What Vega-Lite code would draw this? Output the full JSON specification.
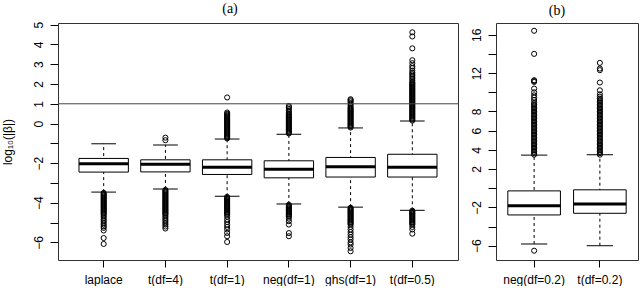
{
"$schema": "https://vega.github.io/schema/vega-lite/v6.json",
"background": "white",
"padding": {"left": 0, "top": 1, "right": 2, "bottom": 0},
"spacing": 10,
"config": {
  "view": {"stroke": "#333", "strokeWidth": 1},
  "font": "Liberation Sans",
  "axis": {"labelFont": "Liberation Sans", "labelFontSize": 12, "labelColor": "#000", "tickColor": "#000", "domain": false, "grid": false, "labelOverlap": false, "labelBound": false, "titleFont": "Liberation Sans", "titleFontSize": 12, "titleFontWeight": "normal", "titleColor": "#000"},
  "title": {"font": "Liberation Serif", "fontSize": 14, "fontWeight": "normal", "color": "#000"}
},
"datasets": {
  "statsA": [
    {"g": "laplace", "lw": -3.46, "q1": -2.45, "med": -2.03, "q3": -1.76, "uw": -1.02},
    {"g": "t(df=4)", "lw": -3.30, "q1": -2.44, "med": -2.06, "q3": -1.83, "uw": -1.08},
    {"g": "t(df=1)", "lw": -3.67, "q1": -2.57, "med": -2.21, "q3": -1.83, "uw": -0.78},
    {"g": "neg(df=1)", "lw": -4.06, "q1": -2.74, "med": -2.31, "q3": -1.88, "uw": -0.54},
    {"g": "ghs(df=1)", "lw": -4.22, "q1": -2.70, "med": -2.18, "q3": -1.71, "uw": -0.22},
    {"g": "t(df=0.5)", "lw": -4.38, "q1": -2.70, "med": -2.20, "q3": -1.55, "uw": 0.13}
  ],
  "statsB": [
    {"g": "neg(df=0.2)", "lw": -5.82, "q1": -2.79, "med": -1.82, "q3": -0.28, "uw": 3.45},
    {"g": "t(df=0.2)", "lw": -6.00, "q1": -2.62, "med": -1.64, "q3": -0.17, "uw": 3.49}
  ],
  "hline": [{"h": 1}],
  "outA": [
    {"g":"laplace","v":-3.50},{"g":"laplace","v":-3.55},{"g":"laplace","v":-3.60},{"g":"laplace","v":-3.65},{"g":"laplace","v":-3.70},{"g":"laplace","v":-3.75},{"g":"laplace","v":-3.80},{"g":"laplace","v":-3.85},{"g":"laplace","v":-3.90},{"g":"laplace","v":-3.95},{"g":"laplace","v":-4.00},{"g":"laplace","v":-4.05},{"g":"laplace","v":-4.10},{"g":"laplace","v":-4.15},{"g":"laplace","v":-4.20},{"g":"laplace","v":-4.25},{"g":"laplace","v":-4.30},{"g":"laplace","v":-4.35},{"g":"laplace","v":-4.40},{"g":"laplace","v":-4.45},{"g":"laplace","v":-4.50},{"g":"laplace","v":-4.55},{"g":"laplace","v":-4.60},{"g":"laplace","v":-4.68},{"g":"laplace","v":-4.76},{"g":"laplace","v":-4.85},{"g":"laplace","v":-4.93},{"g":"laplace","v":-5.02},{"g":"laplace","v":-5.10},{"g":"laplace","v":-5.19},{"g":"laplace","v":-5.27},{"g":"laplace","v":-5.40},{"g":"laplace","v":-5.78},{"g":"laplace","v":-6.08},
    {"g":"t(df=4)","v":-0.71},{"g":"t(df=4)","v":-0.84},
    {"g":"t(df=4)","v":-3.35},{"g":"t(df=4)","v":-3.40},{"g":"t(df=4)","v":-3.45},{"g":"t(df=4)","v":-3.50},{"g":"t(df=4)","v":-3.55},{"g":"t(df=4)","v":-3.60},{"g":"t(df=4)","v":-3.65},{"g":"t(df=4)","v":-3.70},{"g":"t(df=4)","v":-3.75},{"g":"t(df=4)","v":-3.80},{"g":"t(df=4)","v":-3.85},{"g":"t(df=4)","v":-3.90},{"g":"t(df=4)","v":-3.95},{"g":"t(df=4)","v":-4.00},{"g":"t(df=4)","v":-4.05},{"g":"t(df=4)","v":-4.10},{"g":"t(df=4)","v":-4.15},{"g":"t(df=4)","v":-4.20},{"g":"t(df=4)","v":-4.25},{"g":"t(df=4)","v":-4.30},{"g":"t(df=4)","v":-4.35},{"g":"t(df=4)","v":-4.40},{"g":"t(df=4)","v":-4.45},{"g":"t(df=4)","v":-4.50},{"g":"t(df=4)","v":-4.55},{"g":"t(df=4)","v":-4.60},{"g":"t(df=4)","v":-4.68},{"g":"t(df=4)","v":-4.76},{"g":"t(df=4)","v":-4.85},{"g":"t(df=4)","v":-4.93},{"g":"t(df=4)","v":-5.02},{"g":"t(df=4)","v":-5.10},{"g":"t(df=4)","v":-5.20},{"g":"t(df=4)","v":-5.30},
    {"g":"t(df=1)","v":-0.75},{"g":"t(df=1)","v":-0.70},{"g":"t(df=1)","v":-0.65},{"g":"t(df=1)","v":-0.60},{"g":"t(df=1)","v":-0.55},{"g":"t(df=1)","v":-0.50},{"g":"t(df=1)","v":-0.45},{"g":"t(df=1)","v":-0.40},{"g":"t(df=1)","v":-0.35},{"g":"t(df=1)","v":-0.30},{"g":"t(df=1)","v":-0.25},{"g":"t(df=1)","v":-0.20},{"g":"t(df=1)","v":-0.15},{"g":"t(df=1)","v":-0.10},{"g":"t(df=1)","v":-0.05},{"g":"t(df=1)","v":0.00},{"g":"t(df=1)","v":0.05},{"g":"t(df=1)","v":0.10},{"g":"t(df=1)","v":0.15},{"g":"t(df=1)","v":0.20},{"g":"t(df=1)","v":0.25},{"g":"t(df=1)","v":0.30},{"g":"t(df=1)","v":0.35},{"g":"t(df=1)","v":0.40},{"g":"t(df=1)","v":0.45},{"g":"t(df=1)","v":0.50},{"g":"t(df=1)","v":0.56},{"g":"t(df=1)","v":1.32},
    {"g":"t(df=1)","v":-3.70},{"g":"t(df=1)","v":-3.75},{"g":"t(df=1)","v":-3.80},{"g":"t(df=1)","v":-3.85},{"g":"t(df=1)","v":-3.90},{"g":"t(df=1)","v":-3.95},{"g":"t(df=1)","v":-4.00},{"g":"t(df=1)","v":-4.05},{"g":"t(df=1)","v":-4.10},{"g":"t(df=1)","v":-4.15},{"g":"t(df=1)","v":-4.20},{"g":"t(df=1)","v":-4.25},{"g":"t(df=1)","v":-4.30},{"g":"t(df=1)","v":-4.35},{"g":"t(df=1)","v":-4.40},{"g":"t(df=1)","v":-4.45},{"g":"t(df=1)","v":-4.50},{"g":"t(df=1)","v":-4.55},{"g":"t(df=1)","v":-4.60},{"g":"t(df=1)","v":-4.70},{"g":"t(df=1)","v":-4.84},{"g":"t(df=1)","v":-4.97},{"g":"t(df=1)","v":-5.10},{"g":"t(df=1)","v":-5.22},{"g":"t(df=1)","v":-5.35},{"g":"t(df=1)","v":-5.52},{"g":"t(df=1)","v":-5.69},{"g":"t(df=1)","v":-5.98},
    {"g":"neg(df=1)","v":-0.50},{"g":"neg(df=1)","v":-0.45},{"g":"neg(df=1)","v":-0.40},{"g":"neg(df=1)","v":-0.35},{"g":"neg(df=1)","v":-0.30},{"g":"neg(df=1)","v":-0.25},{"g":"neg(df=1)","v":-0.20},{"g":"neg(df=1)","v":-0.15},{"g":"neg(df=1)","v":-0.10},{"g":"neg(df=1)","v":-0.05},{"g":"neg(df=1)","v":0.00},{"g":"neg(df=1)","v":0.05},{"g":"neg(df=1)","v":0.10},{"g":"neg(df=1)","v":0.15},{"g":"neg(df=1)","v":0.20},{"g":"neg(df=1)","v":0.25},{"g":"neg(df=1)","v":0.30},{"g":"neg(df=1)","v":0.35},{"g":"neg(df=1)","v":0.40},{"g":"neg(df=1)","v":0.45},{"g":"neg(df=1)","v":0.50},{"g":"neg(df=1)","v":0.58},{"g":"neg(df=1)","v":0.66},{"g":"neg(df=1)","v":0.74},{"g":"neg(df=1)","v":0.82},{"g":"neg(df=1)","v":0.89},
    {"g":"neg(df=1)","v":-4.10},{"g":"neg(df=1)","v":-4.15},{"g":"neg(df=1)","v":-4.20},{"g":"neg(df=1)","v":-4.25},{"g":"neg(df=1)","v":-4.30},{"g":"neg(df=1)","v":-4.35},{"g":"neg(df=1)","v":-4.40},{"g":"neg(df=1)","v":-4.45},{"g":"neg(df=1)","v":-4.50},{"g":"neg(df=1)","v":-4.55},{"g":"neg(df=1)","v":-4.60},{"g":"neg(df=1)","v":-4.65},{"g":"neg(df=1)","v":-4.70},{"g":"neg(df=1)","v":-4.80},{"g":"neg(df=1)","v":-4.93},{"g":"neg(df=1)","v":-5.10},{"g":"neg(df=1)","v":-5.53},{"g":"neg(df=1)","v":-5.69},
    {"g":"ghs(df=1)","v":-0.20},{"g":"ghs(df=1)","v":-0.15},{"g":"ghs(df=1)","v":-0.10},{"g":"ghs(df=1)","v":-0.05},{"g":"ghs(df=1)","v":0.00},{"g":"ghs(df=1)","v":0.05},{"g":"ghs(df=1)","v":0.10},{"g":"ghs(df=1)","v":0.15},{"g":"ghs(df=1)","v":0.20},{"g":"ghs(df=1)","v":0.25},{"g":"ghs(df=1)","v":0.30},{"g":"ghs(df=1)","v":0.35},{"g":"ghs(df=1)","v":0.40},{"g":"ghs(df=1)","v":0.45},{"g":"ghs(df=1)","v":0.50},{"g":"ghs(df=1)","v":0.55},{"g":"ghs(df=1)","v":0.60},{"g":"ghs(df=1)","v":0.65},{"g":"ghs(df=1)","v":0.70},{"g":"ghs(df=1)","v":0.75},{"g":"ghs(df=1)","v":0.80},{"g":"ghs(df=1)","v":0.88},{"g":"ghs(df=1)","v":0.96},{"g":"ghs(df=1)","v":1.04},{"g":"ghs(df=1)","v":1.12},{"g":"ghs(df=1)","v":1.18},{"g":"ghs(df=1)","v":1.23},
    {"g":"ghs(df=1)","v":-4.25},{"g":"ghs(df=1)","v":-4.30},{"g":"ghs(df=1)","v":-4.35},{"g":"ghs(df=1)","v":-4.40},{"g":"ghs(df=1)","v":-4.45},{"g":"ghs(df=1)","v":-4.50},{"g":"ghs(df=1)","v":-4.55},{"g":"ghs(df=1)","v":-4.60},{"g":"ghs(df=1)","v":-4.65},{"g":"ghs(df=1)","v":-4.70},{"g":"ghs(df=1)","v":-4.75},{"g":"ghs(df=1)","v":-4.80},{"g":"ghs(df=1)","v":-4.85},{"g":"ghs(df=1)","v":-4.90},{"g":"ghs(df=1)","v":-4.95},{"g":"ghs(df=1)","v":-5.00},{"g":"ghs(df=1)","v":-5.05},{"g":"ghs(df=1)","v":-5.10},{"g":"ghs(df=1)","v":-5.22},{"g":"ghs(df=1)","v":-5.35},{"g":"ghs(df=1)","v":-5.48},{"g":"ghs(df=1)","v":-5.61},{"g":"ghs(df=1)","v":-5.74},{"g":"ghs(df=1)","v":-5.86},{"g":"ghs(df=1)","v":-6.00},{"g":"ghs(df=1)","v":-6.11},{"g":"ghs(df=1)","v":-6.28},{"g":"ghs(df=1)","v":-6.45},
    {"g":"t(df=0.5)","v":0.15},{"g":"t(df=0.5)","v":0.20},{"g":"t(df=0.5)","v":0.25},{"g":"t(df=0.5)","v":0.30},{"g":"t(df=0.5)","v":0.35},{"g":"t(df=0.5)","v":0.40},{"g":"t(df=0.5)","v":0.45},{"g":"t(df=0.5)","v":0.50},{"g":"t(df=0.5)","v":0.55},{"g":"t(df=0.5)","v":0.60},{"g":"t(df=0.5)","v":0.65},{"g":"t(df=0.5)","v":0.70},{"g":"t(df=0.5)","v":0.75},{"g":"t(df=0.5)","v":0.80},{"g":"t(df=0.5)","v":0.85},{"g":"t(df=0.5)","v":0.90},{"g":"t(df=0.5)","v":0.95},{"g":"t(df=0.5)","v":1.00},{"g":"t(df=0.5)","v":1.05},{"g":"t(df=0.5)","v":1.10},{"g":"t(df=0.5)","v":1.15},{"g":"t(df=0.5)","v":1.20},{"g":"t(df=0.5)","v":1.25},{"g":"t(df=0.5)","v":1.30},{"g":"t(df=0.5)","v":1.35},{"g":"t(df=0.5)","v":1.40},{"g":"t(df=0.5)","v":1.45},{"g":"t(df=0.5)","v":1.50},{"g":"t(df=0.5)","v":1.55},{"g":"t(df=0.5)","v":1.60},{"g":"t(df=0.5)","v":1.65},{"g":"t(df=0.5)","v":1.70},{"g":"t(df=0.5)","v":1.75},{"g":"t(df=0.5)","v":1.80},{"g":"t(df=0.5)","v":1.85},{"g":"t(df=0.5)","v":1.90},{"g":"t(df=0.5)","v":1.95},{"g":"t(df=0.5)","v":2.00},{"g":"t(df=0.5)","v":2.05},{"g":"t(df=0.5)","v":2.10},{"g":"t(df=0.5)","v":2.18},{"g":"t(df=0.5)","v":2.26},{"g":"t(df=0.5)","v":2.34},{"g":"t(df=0.5)","v":2.42},{"g":"t(df=0.5)","v":2.50},{"g":"t(df=0.5)","v":2.58},{"g":"t(df=0.5)","v":2.67},{"g":"t(df=0.5)","v":2.80},{"g":"t(df=0.5)","v":2.90},{"g":"t(df=0.5)","v":3.05},{"g":"t(df=0.5)","v":3.20},{"g":"t(df=0.5)","v":3.80},{"g":"t(df=0.5)","v":4.40},{"g":"t(df=0.5)","v":4.61},
    {"g":"t(df=0.5)","v":-4.40},{"g":"t(df=0.5)","v":-4.45},{"g":"t(df=0.5)","v":-4.50},{"g":"t(df=0.5)","v":-4.55},{"g":"t(df=0.5)","v":-4.60},{"g":"t(df=0.5)","v":-4.65},{"g":"t(df=0.5)","v":-4.70},{"g":"t(df=0.5)","v":-4.75},{"g":"t(df=0.5)","v":-4.80},{"g":"t(df=0.5)","v":-4.85},{"g":"t(df=0.5)","v":-4.90},{"g":"t(df=0.5)","v":-4.95},{"g":"t(df=0.5)","v":-5.00},{"g":"t(df=0.5)","v":-5.05},{"g":"t(df=0.5)","v":-5.10},{"g":"t(df=0.5)","v":-5.22},{"g":"t(df=0.5)","v":-5.35},{"g":"t(df=0.5)","v":-5.56}
  ],
  "outB": [
    {"g":"neg(df=0.2)","v":3.50},{"g":"neg(df=0.2)","v":3.65},{"g":"neg(df=0.2)","v":3.80},{"g":"neg(df=0.2)","v":3.95},{"g":"neg(df=0.2)","v":4.10},{"g":"neg(df=0.2)","v":4.25},{"g":"neg(df=0.2)","v":4.40},{"g":"neg(df=0.2)","v":4.55},{"g":"neg(df=0.2)","v":4.70},{"g":"neg(df=0.2)","v":4.85},{"g":"neg(df=0.2)","v":5.00},{"g":"neg(df=0.2)","v":5.15},{"g":"neg(df=0.2)","v":5.30},{"g":"neg(df=0.2)","v":5.45},{"g":"neg(df=0.2)","v":5.60},{"g":"neg(df=0.2)","v":5.75},{"g":"neg(df=0.2)","v":5.90},{"g":"neg(df=0.2)","v":6.05},{"g":"neg(df=0.2)","v":6.20},{"g":"neg(df=0.2)","v":6.35},{"g":"neg(df=0.2)","v":6.50},{"g":"neg(df=0.2)","v":6.65},{"g":"neg(df=0.2)","v":6.80},{"g":"neg(df=0.2)","v":6.95},{"g":"neg(df=0.2)","v":7.10},{"g":"neg(df=0.2)","v":7.25},{"g":"neg(df=0.2)","v":7.40},{"g":"neg(df=0.2)","v":7.55},{"g":"neg(df=0.2)","v":7.70},{"g":"neg(df=0.2)","v":7.85},{"g":"neg(df=0.2)","v":8.00},{"g":"neg(df=0.2)","v":8.15},{"g":"neg(df=0.2)","v":8.30},{"g":"neg(df=0.2)","v":8.45},{"g":"neg(df=0.2)","v":8.60},{"g":"neg(df=0.2)","v":8.75},{"g":"neg(df=0.2)","v":8.90},{"g":"neg(df=0.2)","v":9.20},{"g":"neg(df=0.2)","v":9.45},{"g":"neg(df=0.2)","v":9.69},{"g":"neg(df=0.2)","v":10.00},{"g":"neg(df=0.2)","v":10.39},{"g":"neg(df=0.2)","v":11.08},{"g":"neg(df=0.2)","v":11.18},{"g":"neg(df=0.2)","v":11.26},{"g":"neg(df=0.2)","v":14.01},{"g":"neg(df=0.2)","v":16.42},{"g":"neg(df=0.2)","v":-6.52},
    {"g":"t(df=0.2)","v":3.50},{"g":"t(df=0.2)","v":3.65},{"g":"t(df=0.2)","v":3.80},{"g":"t(df=0.2)","v":3.95},{"g":"t(df=0.2)","v":4.10},{"g":"t(df=0.2)","v":4.25},{"g":"t(df=0.2)","v":4.40},{"g":"t(df=0.2)","v":4.55},{"g":"t(df=0.2)","v":4.70},{"g":"t(df=0.2)","v":4.85},{"g":"t(df=0.2)","v":5.00},{"g":"t(df=0.2)","v":5.15},{"g":"t(df=0.2)","v":5.30},{"g":"t(df=0.2)","v":5.45},{"g":"t(df=0.2)","v":5.60},{"g":"t(df=0.2)","v":5.75},{"g":"t(df=0.2)","v":5.90},{"g":"t(df=0.2)","v":6.05},{"g":"t(df=0.2)","v":6.20},{"g":"t(df=0.2)","v":6.35},{"g":"t(df=0.2)","v":6.50},{"g":"t(df=0.2)","v":6.65},{"g":"t(df=0.2)","v":6.80},{"g":"t(df=0.2)","v":6.95},{"g":"t(df=0.2)","v":7.10},{"g":"t(df=0.2)","v":7.25},{"g":"t(df=0.2)","v":7.40},{"g":"t(df=0.2)","v":7.55},{"g":"t(df=0.2)","v":7.70},{"g":"t(df=0.2)","v":7.85},{"g":"t(df=0.2)","v":8.00},{"g":"t(df=0.2)","v":8.15},{"g":"t(df=0.2)","v":8.30},{"g":"t(df=0.2)","v":8.45},{"g":"t(df=0.2)","v":8.60},{"g":"t(df=0.2)","v":8.75},{"g":"t(df=0.2)","v":8.90},{"g":"t(df=0.2)","v":9.05},{"g":"t(df=0.2)","v":9.20},{"g":"t(df=0.2)","v":9.35},{"g":"t(df=0.2)","v":9.55},{"g":"t(df=0.2)","v":9.79},{"g":"t(df=0.2)","v":10.21},{"g":"t(df=0.2)","v":11.02},{"g":"t(df=0.2)","v":12.31},{"g":"t(df=0.2)","v":12.48},{"g":"t(df=0.2)","v":13.07}
  ]
},
"hconcat": [
  {
    "width": 400, "height": 237,
    "title": {"text": "(a)", "anchor": "middle", "dx": -28, "offset": 5},
    "layer": [
      {
        "data": {"name": "statsA"},
        "mark": {"type": "rule", "color": "#000", "strokeWidth": 1, "strokeDash": [3, 3]},
        "encoding": {
          "x": {"field": "g", "type": "nominal", "sort": ["laplace","t(df=4)","t(df=1)","neg(df=1)","ghs(df=1)","t(df=0.5)"], "scale": {"type": "band", "paddingInner": 0.2, "paddingOuter": 0.34},
                "axis": {"title": null, "labelAngle": 0, "tickSize": 7, "labelPadding": 7, "bandPosition": 0.5, "labelOverlap": false}},
          "y": {"field": "lw", "type": "quantitative", "scale": {"domain": [-6.89, 5.08], "nice": false, "zero": false},
                "axis": {"title": "log₁₀(|β|)", "values": [-6,-5,-4,-3,-2,-1,0,1,2,3,4,5], "tickCount": 30, "format": "d", "labelExpr": "(datum.value == -5 || datum.value == -3 || datum.value == -1) ? '' : datum.label", "labelAngle": -90, "labelAlign": "center", "labelBaseline": "bottom", "labelOverlap": false, "labelFlush": false, "tickSize": 8, "labelPadding": 5, "titlePadding": 18}},
          "y2": {"field": "uw"}
        }
      },
      {
        "data": {"name": "statsA"},
        "mark": {"type": "rect", "fill": "white", "stroke": "#000", "strokeWidth": 1},
        "encoding": {
          "x": {"field": "g", "type": "nominal", "sort": ["laplace","t(df=4)","t(df=1)","neg(df=1)","ghs(df=1)","t(df=0.5)"], "scale": {"type": "band", "paddingInner": 0.2, "paddingOuter": 0.34}},
          "y": {"field": "q1", "type": "quantitative"},
          "y2": {"field": "q3"}
        }
      },
      {
        "data": {"name": "statsA"},
        "mark": {"type": "tick", "color": "#000", "size": 49.4, "thickness": 3, "opacity": 1},
        "encoding": {
          "x": {"field": "g", "type": "nominal", "sort": ["laplace","t(df=4)","t(df=1)","neg(df=1)","ghs(df=1)","t(df=0.5)"], "scale": {"type": "band", "paddingInner": 0.2, "paddingOuter": 0.34}},
          "y": {"field": "med", "type": "quantitative"}
        }
      },
      {
        "data": {"name": "statsA"},
        "mark": {"type": "tick", "color": "#000", "size": 24.7, "thickness": 1, "opacity": 1},
        "encoding": {
          "x": {"field": "g", "type": "nominal", "sort": ["laplace","t(df=4)","t(df=1)","neg(df=1)","ghs(df=1)","t(df=0.5)"], "scale": {"type": "band", "paddingInner": 0.2, "paddingOuter": 0.34}},
          "y": {"field": "lw", "type": "quantitative"}
        }
      },
      {
        "data": {"name": "statsA"},
        "mark": {"type": "tick", "color": "#000", "size": 24.7, "thickness": 1, "opacity": 1},
        "encoding": {
          "x": {"field": "g", "type": "nominal", "sort": ["laplace","t(df=4)","t(df=1)","neg(df=1)","ghs(df=1)","t(df=0.5)"], "scale": {"type": "band", "paddingInner": 0.2, "paddingOuter": 0.34}},
          "y": {"field": "uw", "type": "quantitative"}
        }
      },
      {
        "data": {"name": "outA"},
        "mark": {"type": "point", "shape": "circle", "filled": false, "size": 26, "stroke": "#000", "strokeWidth": 1, "opacity": 1},
        "encoding": {
          "x": {"field": "g", "type": "nominal", "sort": ["laplace","t(df=4)","t(df=1)","neg(df=1)","ghs(df=1)","t(df=0.5)"], "scale": {"type": "band", "paddingInner": 0.2, "paddingOuter": 0.34}},
          "y": {"field": "v", "type": "quantitative"}
        }
      },
      {
        "data": {"name": "hline"},
        "mark": {"type": "rule", "color": "#444", "strokeWidth": 1},
        "encoding": {"y": {"field": "h", "type": "quantitative"}}
      }
    ]
  },
  {
    "width": 142, "height": 237,
    "title": {"text": "(b)", "anchor": "middle", "dx": -10, "offset": 5},
    "layer": [
      {
        "data": {"name": "statsB"},
        "mark": {"type": "rule", "color": "#000", "strokeWidth": 1, "strokeDash": [3, 3]},
        "encoding": {
          "x": {"field": "g", "type": "nominal", "sort": ["neg(df=0.2)","t(df=0.2)"], "scale": {"type": "band", "paddingInner": 0.2, "paddingOuter": 0.18},
                "axis": {"title": null, "labelAngle": 0, "tickSize": 7, "labelPadding": 7, "bandPosition": 0.5, "labelOverlap": false}},
          "y": {"field": "lw", "type": "quantitative", "scale": {"domain": [-7.49, 17.23], "nice": false, "zero": false},
                "axis": {"title": null, "values": [-6,-4,-2,0,2,4,6,8,10,12,14,16], "tickCount": 30, "format": "d", "labelExpr": "(datum.value == -4 || datum.value == 0 || datum.value == 10 || datum.value == 14) ? '' : datum.label", "labelAngle": -90, "labelAlign": "center", "labelBaseline": "bottom", "labelOverlap": false, "labelFlush": false, "tickSize": 8, "labelPadding": 5}},
          "y2": {"field": "uw"}
        }
      },
      {
        "data": {"name": "statsB"},
        "mark": {"type": "rect", "fill": "white", "stroke": "#000", "strokeWidth": 1},
        "encoding": {
          "x": {"field": "g", "type": "nominal", "sort": ["neg(df=0.2)","t(df=0.2)"], "scale": {"type": "band", "paddingInner": 0.2, "paddingOuter": 0.18}},
          "y": {"field": "q1", "type": "quantitative"},
          "y2": {"field": "q3"}
        }
      },
      {
        "data": {"name": "statsB"},
        "mark": {"type": "tick", "color": "#000", "size": 52.6, "thickness": 3, "opacity": 1},
        "encoding": {
          "x": {"field": "g", "type": "nominal", "sort": ["neg(df=0.2)","t(df=0.2)"], "scale": {"type": "band", "paddingInner": 0.2, "paddingOuter": 0.18}},
          "y": {"field": "med", "type": "quantitative"}
        }
      },
      {
        "data": {"name": "statsB"},
        "mark": {"type": "tick", "color": "#000", "size": 26.3, "thickness": 1, "opacity": 1},
        "encoding": {
          "x": {"field": "g", "type": "nominal", "sort": ["neg(df=0.2)","t(df=0.2)"], "scale": {"type": "band", "paddingInner": 0.2, "paddingOuter": 0.18}},
          "y": {"field": "lw", "type": "quantitative"}
        }
      },
      {
        "data": {"name": "statsB"},
        "mark": {"type": "tick", "color": "#000", "size": 26.3, "thickness": 1, "opacity": 1},
        "encoding": {
          "x": {"field": "g", "type": "nominal", "sort": ["neg(df=0.2)","t(df=0.2)"], "scale": {"type": "band", "paddingInner": 0.2, "paddingOuter": 0.18}},
          "y": {"field": "uw", "type": "quantitative"}
        }
      },
      {
        "data": {"name": "outB"},
        "mark": {"type": "point", "shape": "circle", "filled": false, "size": 26, "stroke": "#000", "strokeWidth": 1, "opacity": 1},
        "encoding": {
          "x": {"field": "g", "type": "nominal", "sort": ["neg(df=0.2)","t(df=0.2)"], "scale": {"type": "band", "paddingInner": 0.2, "paddingOuter": 0.18}},
          "y": {"field": "v", "type": "quantitative"}
        }
      }
    ]
  }
]
}
